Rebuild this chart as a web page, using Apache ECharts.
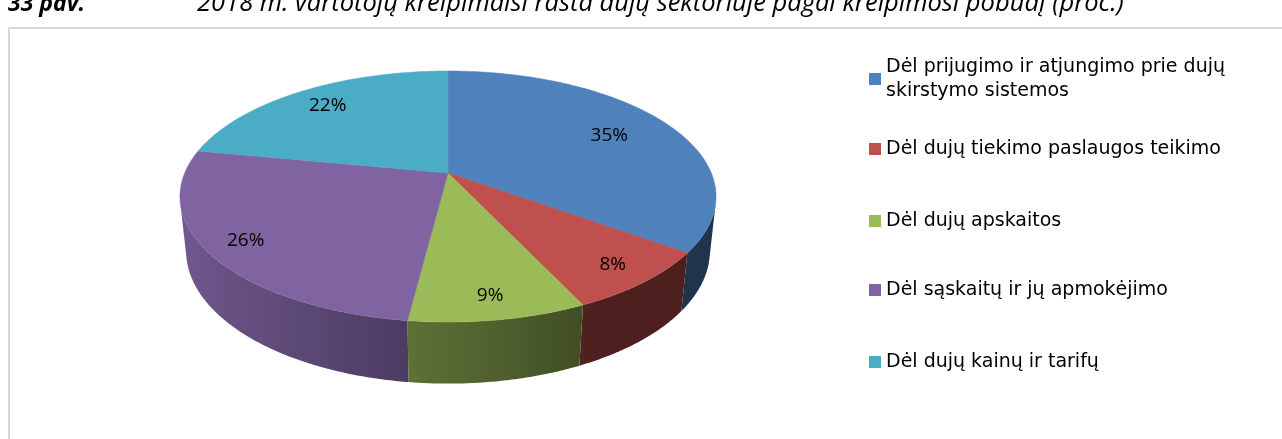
<!DOCTYPE html>
<html>
<head>
<meta charset="utf-8">
<script src="https://cdn.jsdelivr.net/npm/echarts/dist/echarts.min.js"></script>
<style>
  html, body { margin: 0; padding: 0; background: #ffffff; }
  #chart { width: 1282px; height: 439px; }
</style>
</head>
<body>
<div id="chart"></div>
<script>
// Complaint categories and their shares (percent)
const categories = [
  'Dėl prijugimo ir atjungimo prie dujų skirstymo sistemos',
  'Dėl dujų tiekimo paslaugos teikimo',
  'Dėl dujų apskaitos',
  'Dėl sąskaitų ir jų apmokėjimo',
  'Dėl dujų kainų ir tarifų'
];
const values = [35, 8, 9, 26, 22];
const figureNo = '33 pav.';
const figureTitle = '2018 m. vartotojų kreipimaisi rasta dujų sektoriuje pagal kreipimosi pobūdį (proc.)';

// Styling / layout
const colors = ['#4F81BD', '#C0504D', '#9BBB59', '#8064A2', '#4BACC6'];
const labelRadius = [0.73, 0.86, 0.86, 0.86, 0.80];
const legendTops = [43, 137, 209, 278, 350];

const total = values.reduce((a, b) => a + b, 0);
const starts = values.map((v, i) => values.slice(0, i).reduce((a, b) => a + b, 0));

// Perspective camera looking down on a unit disc of given thickness
const cam = { cx: 448, cy: 173, k: 1248.6, dist: 4.742, sinT: 0.46, cosT: 0.888, depth: 0.2346 };

function project(X, Y, Z) {
  const zc = cam.dist - cam.cosT * Y - cam.sinT * Z;
  return [cam.cx + cam.k * X / zc, cam.cy + cam.k * (cam.sinT * Y - cam.cosT * Z) / zc];
}
// point on the rim; angle measured clockwise from the far side
function rim(a, z, r) {
  r = r == null ? 1 : r;
  return project(r * Math.sin(a), -r * Math.cos(a), z);
}
function shade(hex, f) {
  const n = parseInt(hex.slice(1), 16);
  const r = (n >> 16) & 255, g = (n >> 8) & 255, b = n & 255;
  return 'rgb(' + Math.round(r * f) + ',' + Math.round(g * f) + ',' + Math.round(b * f) + ')';
}
// wall brightness: lit from the left, darker towards the right
function wallLight(a) {
  return Math.min(0.92, Math.max(0.4, 0.562 - 0.338 * Math.sin(a)));
}

// the wall faces the viewer between these two angles
const visStart = Math.acos(-1 / (cam.dist * cam.cosT));
const visEnd = 2 * Math.PI - visStart;

function renderSlice(params, api) {
  const start = api.value(0), val = api.value(1);
  const a0 = start / total * 2 * Math.PI;
  const a1 = (start + val) / total * 2 * Math.PI;
  const color = api.visual('color');
  const children = [];

  // outer wall (front part only), one shape with a horizontal shading gradient
  const w0 = Math.max(a0, visStart), w1 = Math.min(a1, visEnd);
  if (w1 > w0) {
    const n = Math.max(4, Math.ceil((w1 - w0) / (Math.PI / 360)));
    const upper = [], lower = [];
    for (let j = 0; j <= n; j++) {
      const a = w0 + (w1 - w0) * j / n;
      upper.push(rim(a, 0));
      lower.push(rim(a, -cam.depth));
    }
    const pts = upper.concat(lower.reverse());
    let minX = Infinity, maxX = -Infinity;
    pts.forEach(p => { minX = Math.min(minX, p[0]); maxX = Math.max(maxX, p[0]); });
    const stops = [];
    const ns = 10;
    for (let j = 0; j <= ns; j++) {
      const a = w0 + (w1 - w0) * j / ns;
      const x = rim(a, 0)[0];
      const off = maxX > minX ? (x - minX) / (maxX - minX) : 0;
      stops.push({ offset: Math.min(1, Math.max(0, off)), color: shade(color, wallLight(a)) });
    }
    stops.sort((p, q) => p.offset - q.offset);
    children.push({
      type: 'polygon',
      silent: true,
      shape: { points: pts },
      style: { fill: { type: 'linear', x: 0, y: 0, x2: 1, y2: 0, colorStops: stops } }
    });
  }

  // top face
  const steps = Math.max(2, Math.ceil((a1 - a0) / (Math.PI / 360)));
  const top = [project(0, 0, 0)];
  for (let j = 0; j <= steps; j++) top.push(rim(a0 + (a1 - a0) * j / steps, 0));
  children.push({
    type: 'polygon',
    shape: { points: top },
    style: { fill: color, stroke: color, lineWidth: 0.5 }
  });

  // value label
  const mid = (a0 + a1) / 2;
  const p = rim(mid, 0, labelRadius[params.seriesIndex]);
  children.push({
    type: 'text',
    x: p[0], y: p[1],
    z2: 10,
    style: {
      text: val + '%',
      fill: '#000000',
      font: '19px "Open Sans"',
      align: 'center',
      verticalAlign: 'middle'
    }
  });
  return { type: 'group', children: children };
}

function wrapWords(name, maxChars) {
  const words = name.split(' ');
  const lines = [];
  let cur = '';
  words.forEach(w => {
    const next = cur ? cur + ' ' + w : w;
    if (next.length > maxChars && cur) { lines.push(cur); cur = w; }
    else cur = next;
  });
  if (cur) lines.push(cur);
  return lines.join('\n');
}

const chart = echarts.init(document.getElementById('chart'), null, { renderer: 'canvas' });

const option = {
  backgroundColor: '#ffffff',
  animation: false,
  graphic: [
    {
      type: 'rect', silent: true, z: -1,
      shape: { x: 9, y: 28, width: 1400, height: 600 },
      style: { fill: 'none', stroke: '#d9d9d9', lineWidth: 2 }
    },
    {
      type: 'text', silent: true, x: 8, y: 4,
      style: { text: figureNo, font: 'italic bold 23px "Open Sans"', fill: '#000',
               align: 'left', verticalAlign: 'middle', textAlign: 'left', textVerticalAlign: 'middle' }
    },
    {
      type: 'text', silent: true, x: 197, y: 4,
      style: { text: figureTitle, font: 'italic 25.5px "Open Sans"', fill: '#000',
               align: 'left', verticalAlign: 'middle', textAlign: 'left', textVerticalAlign: 'middle' }
    }
  ],
  legend: categories.map((name, i) => ({
    data: [name],
    orient: 'vertical',
    left: 869,
    top: legendTops[i],
    padding: 0,
    icon: 'rect',
    itemWidth: 12,
    itemHeight: 12,
    itemGap: 0,
    selectedMode: false,
    formatter: n => wrapWords(n, 36),
    textStyle: {
      fontFamily: '"DejaVu Sans"',
      fontSize: 19,
      color: '#000000',
      lineHeight: 24,
      padding: i === 0 ? [24, 0, 0, 0] : 0
    }
  })),
  series: categories.map((name, i) => ({
    type: 'custom',
    name: name,
    coordinateSystem: 'none',
    renderItem: renderSlice,
    itemStyle: { color: colors[i] },
    data: [[starts[i], values[i]]]
  }))
};

chart.setOption(option);
</script>
</body>
</html>
